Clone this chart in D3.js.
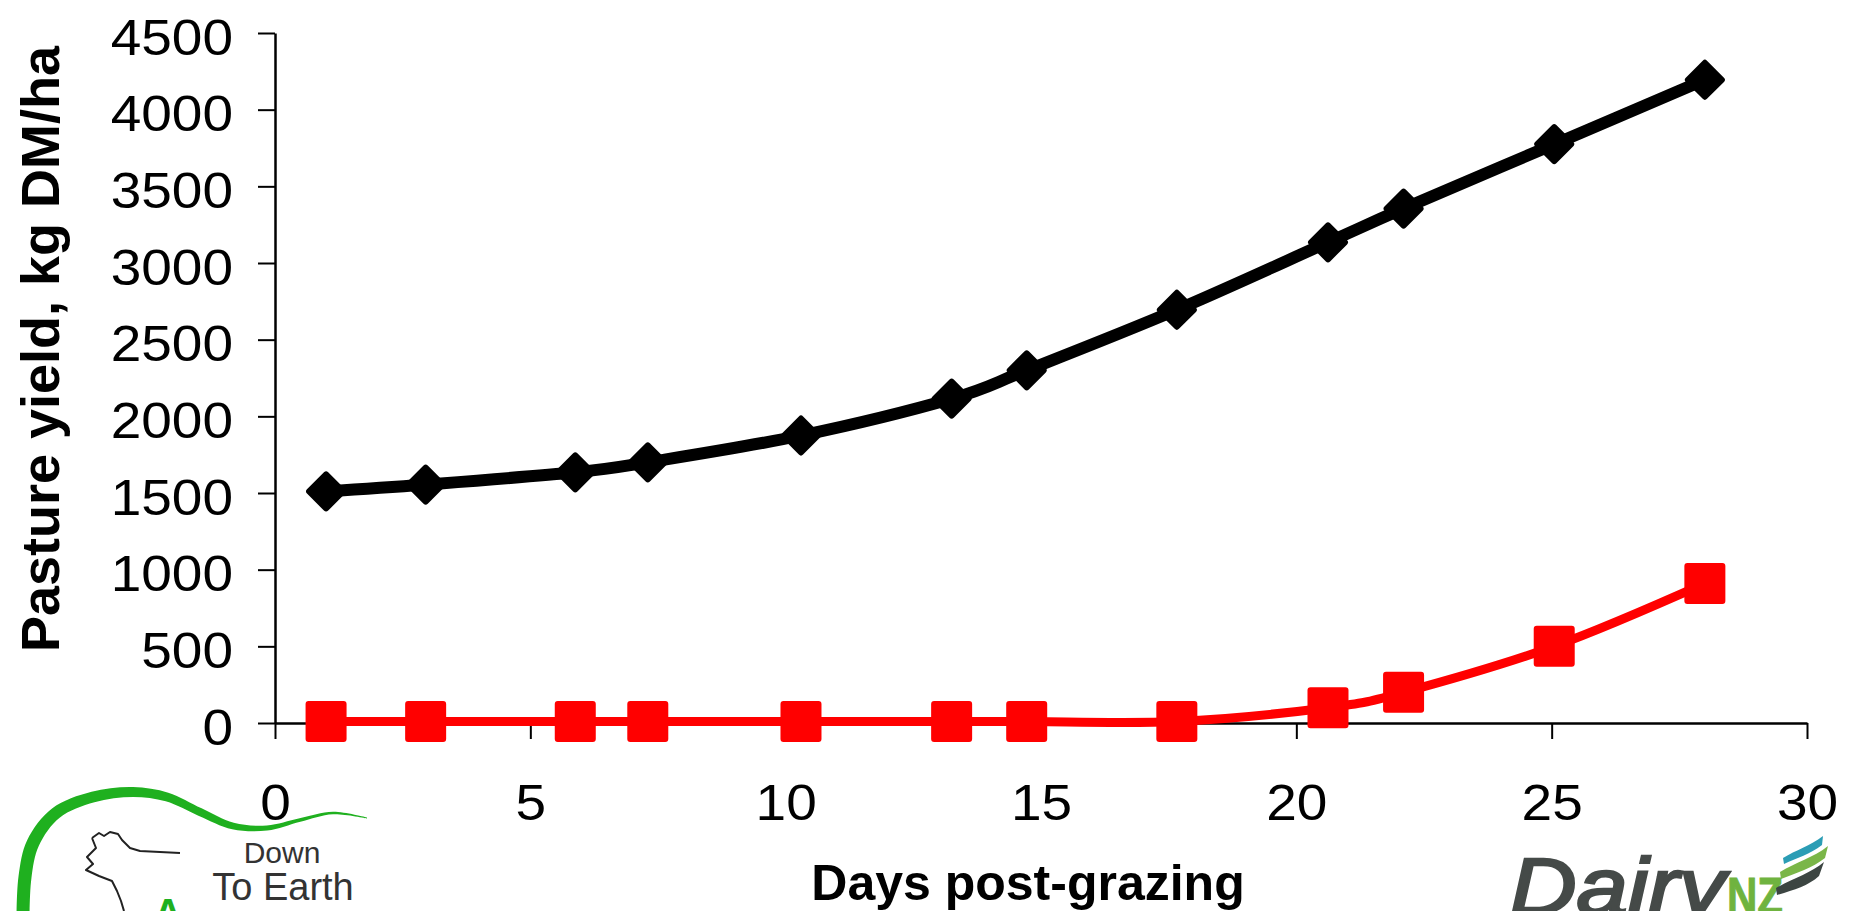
<!DOCTYPE html>
<html>
<head>
<meta charset="utf-8">
<script src="https://cdn.jsdelivr.net/npm/d3@7"></script>
<style>
  html, body { margin: 0; padding: 0; background: #fff; }
  svg { display: block; font-family: "Liberation Sans", Arial, sans-serif; }
</style>
</head>
<body>
<svg id="chart" width="1856" height="911"></svg>
<script>
// data
const days = [1, 2.95, 5.88, 7.3, 10.3, 13.25, 14.72, 17.66, 20.62, 22.1, 25.05, 28];
const yieldTop = [1510, 1555, 1635, 1700, 1875, 2115, 2300, 2695, 3135, 3355, 3775, 4195];
const yieldBottom = [10, 10, 10, 10, 10, 10, 10, 10, 100, 200, 500, 910];
const xTicks = [0, 5, 10, 15, 20, 25, 30];
const yTicks = [0, 500, 1000, 1500, 2000, 2500, 3000, 3500, 4000, 4500];

const svg = d3.select("#chart");

const x = d3.scaleLinear().domain([0, 30]).range([275, 1807]);
const y = d3.scaleLinear().domain([0, 4500]).range([723, 33]);

// ---------- axes ----------
const yAxis = d3.axisLeft(y).tickValues(yTicks).tickFormat(d3.format("d"))
  .tickSize(17).tickSizeOuter(0).tickPadding(25);
const xAxis = d3.axisBottom(x).tickValues(xTicks).tickFormat(d3.format("d"))
  .tickSize(16).tickSizeOuter(0).tickPadding(45);

const gy = svg.append("g").attr("transform", `translate(${x(0)},0)`).call(yAxis);
const gx = svg.append("g").attr("transform", `translate(0,${y(0)})`).call(xAxis);

[gx, gy].forEach(g => {
  g.select(".domain").attr("stroke", "#000").attr("stroke-width", 2.5);
  g.selectAll(".tick line").attr("stroke", "#000").attr("stroke-width", 2);
  g.selectAll(".tick text")
    .attr("fill", "#000")
    .style("font-family", '"Liberation Sans", Arial, sans-serif')
    .style("font-size", "50px")
    .each(function () {
      // the tick digits in the picture are a bit wider than plain Arial
      const w = this.getComputedTextLength();
      d3.select(this).attr("textLength", w * 1.1).attr("lengthAdjust", "spacingAndGlyphs");
    });
});
gy.selectAll(".tick text").attr("dy", "0.42em");

// axis titles
svg.append("text")
  .attr("transform", "translate(59,349) rotate(-90)")
  .attr("text-anchor", "middle")
  .style("font-size", "54px")
  .style("font-weight", "bold")
  .text("Pasture yield, kg DM/ha");

svg.append("text")
  .attr("x", 1028)
  .attr("y", 900)
  .attr("text-anchor", "middle")
  .style("font-size", "50px")
  .style("font-weight", "bold")
  .text("Days post-grazing");

// ---------- series ----------
const line = d3.line()
  .x(d => x(d[0]))
  .y(d => y(d[1]))
  .curve(d3.curveCatmullRom.alpha(0));

const bottomPts = d3.zip(days, yieldBottom);
const topPts = d3.zip(days, yieldTop);

svg.append("path")
  .attr("d", line(bottomPts))
  .attr("fill", "none")
  .attr("stroke", "#ff0000")
  .attr("stroke-width", 9);

svg.append("g").selectAll("path")
  .data(bottomPts)
  .join("path")
  .attr("transform", d => `translate(${x(d[0])},${y(d[1])})`)
  .attr("d", d3.symbol(d3.symbolSquare, 35 * 35))
  .attr("fill", "#ff0000")
  .attr("stroke", "#ff0000")
  .attr("stroke-width", 6)
  .attr("stroke-linejoin", "round");

svg.append("path")
  .attr("d", line(topPts))
  .attr("fill", "none")
  .attr("stroke", "#000")
  .attr("stroke-width", 12);

svg.append("g").selectAll("path")
  .data(topPts)
  .join("path")
  .attr("transform", d => `translate(${x(d[0])},${y(d[1])}) rotate(45)`)
  .attr("d", d3.symbol(d3.symbolSquare, 24 * 24))
  .attr("fill", "#000")
  .attr("stroke", "#000")
  .attr("stroke-width", 6)
  .attr("stroke-linejoin", "round");

// ---------- logos (decoration) ----------
// Down To Earth: tapered green swoosh
const swoosh = [
  [23, 915, 13], [25, 877, 13], [33, 843, 13], [56, 813, 12], [93, 797, 11],
  [133, 792, 10], [167, 797, 9], [200, 812, 8], [233, 826, 6.5], [267, 828, 5],
  [300, 820, 3.5], [333, 813, 2.5], [367, 818, 1]
];
const left = [], right = [];
swoosh.forEach((p, i) => {
  const a = swoosh[Math.max(0, i - 1)], b = swoosh[Math.min(swoosh.length - 1, i + 1)];
  const dx = b[0] - a[0], dy = b[1] - a[1], len = Math.hypot(dx, dy);
  const nx = -dy / len, ny = dx / len, h = p[2] / 2;
  left.push([p[0] + nx * h, p[1] + ny * h]);
  right.push([p[0] - nx * h, p[1] - ny * h]);
});
const edge = d3.line().curve(d3.curveCatmullRom);
svg.append("path")
  .attr("d", edge(left) + "L" + edge(right.reverse()).slice(1) + "Z")
  .attr("fill", "#1fb01f");

// cow outline
svg.append("path")
  .attr("d", "M92,838 L99,833 L104,836 L110,832 L118,834 L122,840 L130,848 L140,851 L180,853 " +
             "M92,838 L96,848 L87,857 L93,864 L86,870 L99,876 L112,881 L117,891 L121,901 L124,911")
  .attr("fill", "none")
  .attr("stroke", "#222")
  .attr("stroke-width", 2)
  .attr("stroke-linejoin", "round");

svg.append("text").attr("x", 168).attr("y", 927).attr("text-anchor", "middle")
  .style("font-size", "40px").style("font-weight", "bold").attr("fill", "#1fb01f").text("A");

svg.append("text").attr("x", 282).attr("y", 863).attr("text-anchor", "middle")
  .style("font-size", "30px").attr("fill", "#333").text("Down");
svg.append("text").attr("x", 283).attr("y", 900).attr("text-anchor", "middle")
  .style("font-size", "38px").attr("fill", "#333").text("To Earth");

// DairyNZ
svg.append("text").attr("x", 1510).attr("y", 914)
  .attr("textLength", 215).attr("lengthAdjust", "spacingAndGlyphs")
  .style("font-size", "80px").style("font-style", "italic")
  .attr("fill", "#454a48").attr("stroke", "#454a48").attr("stroke-width", 2.5)
  .text("Dairy");
svg.append("text").attr("x", 1727).attr("y", 914)
  .attr("textLength", 56).attr("lengthAdjust", "spacingAndGlyphs")
  .style("font-size", "52px").style("font-weight", "bold")
  .attr("fill", "#6fb33f").attr("stroke", "#6fb33f").attr("stroke-width", 1)
  .text("NZ");

const stripes = [
  { d: "M1783,858 C1796,850 1810,846 1823,836 L1822,845 C1810,854 1797,858 1784,864 Z", c: "#2b9db5" },
  { d: "M1780,872 C1796,862 1813,858 1828,846 L1825,858 C1812,868 1797,873 1781,879 Z", c: "#7ab648" },
  { d: "M1776,888 C1794,878 1811,873 1824,862 L1819,876 C1808,886 1794,890 1777,895 Z", c: "#3c4542" }
];
svg.append("g").selectAll("path").data(stripes).join("path")
  .attr("d", d => d.d).attr("fill", d => d.c);
</script>
</body>
</html>
